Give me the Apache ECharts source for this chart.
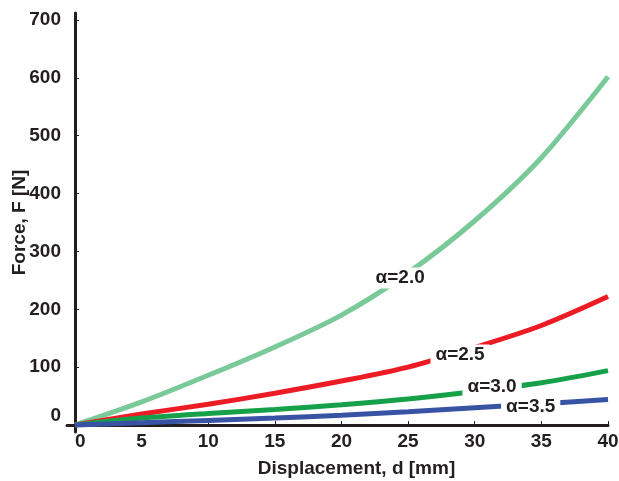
<!DOCTYPE html>
<html>
<head>
<meta charset="utf-8">
<script src="https://cdn.jsdelivr.net/npm/echarts@6/dist/echarts.min.js"></script>
<style>
  html, body { margin: 0; padding: 0; background: #fff; }
  #chart { width: 619px; height: 481px; }
</style>
</head>
<body>
<div id="chart"></div>
<script>
// 位移 d [mm]
const displacement = [0, 5, 10, 15, 20, 25, 30, 35, 40];
// 各 α 对应的力 F [N]
const force20 = [0, 40, 86, 135, 190, 263, 353, 462, 602];
const force25 = [0, 19, 36, 55, 76, 100, 134, 172, 222];
const force30 = [0, 12, 20, 27, 35, 45, 58, 73, 94];
const force35 = [0, 4, 8, 12, 17, 23, 30, 37, 44];
const seriesNames = ['α=2.0', 'α=2.5', 'α=3.0', 'α=3.5'];
// 刻度
const xTicks = [0, 5, 10, 15, 20, 25, 30, 35, 40];
const yTicks = [0, 100, 200, 300, 400, 500, 600, 700];
// 标注位置 [d, F]
const labelAt = [[24.4, 254], [28.9, 121], [31.3, 66], [34.2, 32]];

const colors = ['#7ac998', '#ed1c24', '#16a04a', '#3953a4'];
const textColor = '#231f20';
const font = 'Liberation Sans, Arial, sans-serif';

function pairs(ys) {
    return displacement.map((d, i) => [d, ys[i]]);
}

const chart = echarts.init(document.getElementById('chart'));

const option = {
    animation: false,
    grid: { left: 67, right: 11, top: 13, bottom: 49, outerBoundsMode: 'none', containLabel: false },
    xAxis: {
        type: 'value',
        min: -0.6,
        max: 40,
        name: 'Displacement, d [mm]',
        nameLocation: 'middle',
        nameGap: 27,
        nameMoveOverlap: false,
        nameTextStyle: {
            color: textColor, fontFamily: font, fontWeight: 'bold', fontSize: 19,
            padding: [0, 0, 0, 38]
        },
        axisLine: { show: true, onZero: true, lineStyle: { color: textColor, width: 3 } },
        axisTick: {
            show: true, inside: true, length: 4, customValues: xTicks,
            lineStyle: { color: textColor, width: 1 }
        },
        axisLabel: {
            color: textColor, fontFamily: font, fontWeight: 'bold', fontSize: 19,
            margin: 0, customValues: xTicks, alignMinLabel: 'left'
        },
        splitLine: { show: false }
    },
    yAxis: {
        type: 'value',
        min: -12,
        max: 712,
        name: 'Force, F [N]',
        nameLocation: 'middle',
        nameGap: 38,
        nameMoveOverlap: false,
        nameTextStyle: { color: textColor, fontFamily: font, fontWeight: 'bold', fontSize: 19 },
        axisLine: { show: true, onZero: true, lineStyle: { color: textColor, width: 3 } },
        axisTick: {
            show: true, inside: true, length: 4, customValues: yTicks,
            lineStyle: { color: textColor, width: 1 }
        },
        axisLabel: {
            color: textColor, fontFamily: font, fontWeight: 'bold', fontSize: 19,
            margin: 6, customValues: yTicks, verticalAlignMinLabel: 'bottom'
        },
        splitLine: { show: false }
    },
    series: [force20, force25, force30, force35].map((ys, i) => ({
        name: seriesNames[i],
        type: 'line',
        data: pairs(ys),
        smooth: 0.3,
        showSymbol: false,
        lineStyle: { color: colors[i], width: 5 },
        itemStyle: { color: colors[i] },
        markPoint: {
            symbol: 'circle',
            symbolSize: 0,
            data: [{ coord: labelAt[i] }],
            label: {
                show: true,
                position: 'inside',
                formatter: seriesNames[i],
                color: textColor,
                fontFamily: font,
                fontWeight: 'bold',
                fontSize: 19,
                backgroundColor: '#fff',
                padding: [1, 5]
            }
        }
    }))
};

chart.setOption(option);
</script>
</body>
</html>
